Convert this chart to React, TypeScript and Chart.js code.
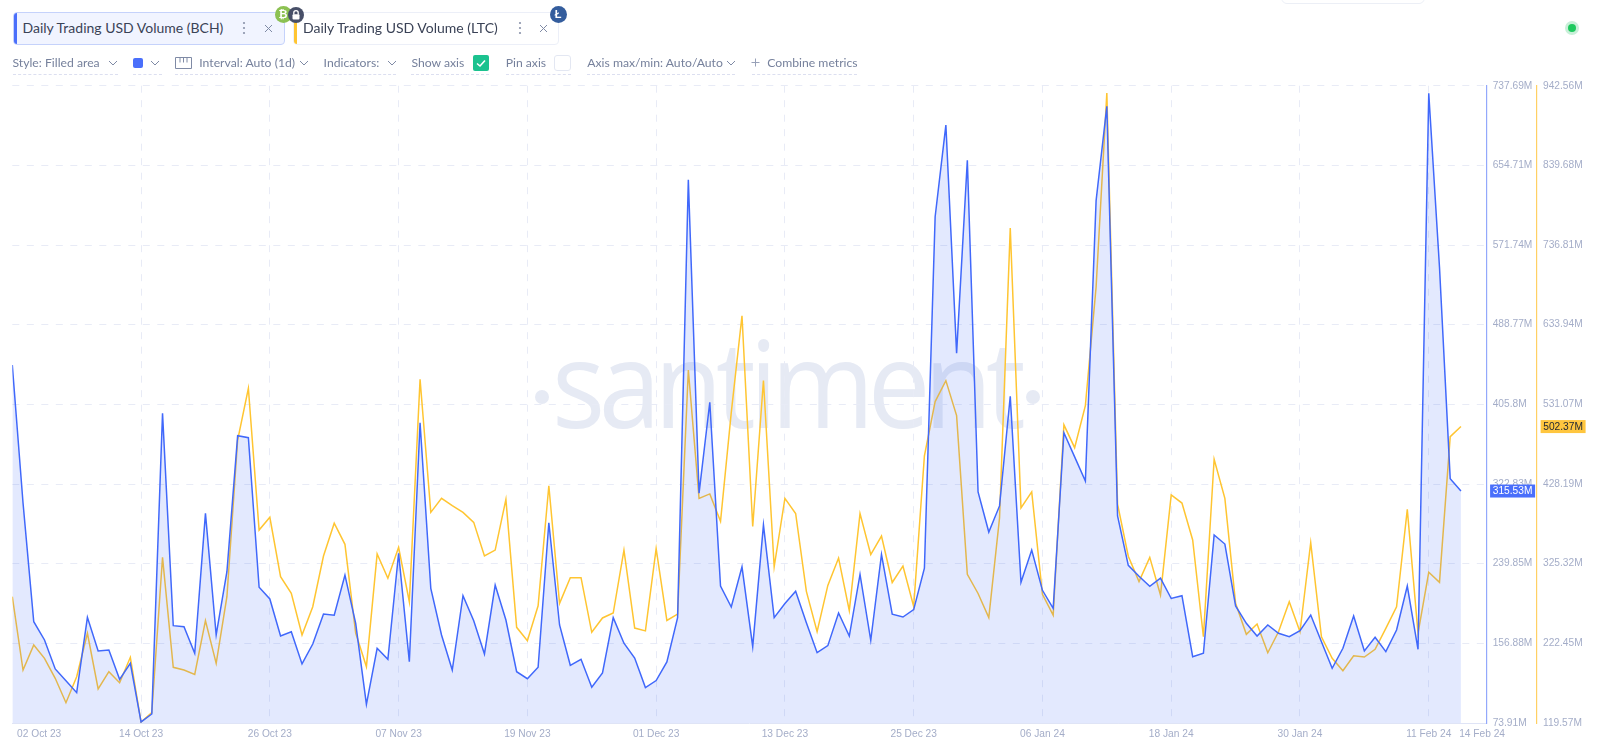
import React, { useEffect, useRef } from "react";
import { Chart, registerables } from "chart.js";

Chart.register(...registerables);

const seriesBCH = [
  446.8, 303.0, 179.4, 160.4, 130.2, 118.0, 105.5, 184.0, 148.9, 149.9, 119.4, 136.1,
  75.0, 83.3, 396.5, 175.3, 174.2, 146.5, 292.3, 165.6, 231.5, 373.2, 371.1, 215.3,
  203.1, 164.5, 169.0, 135.4, 156.2, 187.4, 186.1, 228.0, 177.7, 93.4, 151.7, 140.3,
  250.7, 137.8, 386.7, 214.2, 165.6, 129.1, 206.5, 180.5, 145.8, 217.6, 181.2, 127.3,
  120.0, 132.0, 282.5, 176.0, 134.0, 140.3, 111.1, 126.0, 183.7, 157.0, 141.6, 110.8,
  118.1, 137.5, 183.7, 639.7, 313.3, 408.0, 216.6, 194.7, 236.6, 153.4, 280.3, 183.7,
  198.3, 211.1, 178.3, 147.2, 154.5, 188.5, 164.4, 228.6, 160.1, 249.5, 187.2, 184.3,
  192.0, 235.1, 601.2, 696.7, 459.0, 659.9, 314.6, 272.8, 300.0, 414.2, 220.5, 254.0,
  212.1, 193.3, 376.2, 351.1, 326.0, 618.0, 716.3, 289.5, 238.1, 226.7, 216.3, 224.9,
  203.6, 206.5, 143.0, 146.5, 269.7, 260.3, 195.8, 177.7, 164.5, 176.0, 167.3, 163.8,
  170.0, 186.4, 158.6, 130.9, 151.7, 185.4, 149.0, 163.2, 148.2, 170.8, 216.6, 150.7,
  729.8, 548.9, 328.4, 315.53,
];

const seriesLTC = [
  282.7, 188.0, 220.3, 203.1, 177.3, 145.8, 179.4, 235.4, 163.5, 185.8, 171.6, 204.4,
  120.8, 132.9, 333.5, 191.5, 188.0, 182.4, 251.7, 196.6, 282.7, 485.0, 551.8, 368.8,
  385.2, 308.5, 287.0, 233.2, 269.7, 335.2, 377.5, 350.3, 235.8, 192.3, 337.8, 306.4,
  346.4, 276.2, 563.4, 391.6, 409.7, 400.2, 391.6, 378.7, 335.2, 342.9, 408.4, 243.1,
  225.8, 271.0, 426.0, 274.1, 307.2, 307.2, 236.7, 255.2, 261.6, 342.9, 242.2, 238.5,
  344.8, 252.0, 260.3, 575.5, 409.6, 415.4, 380.1, 520.3, 645.5, 373.3, 561.8, 321.3,
  409.6, 390.1, 289.6, 237.6, 297.2, 332.6, 264.7, 390.1, 337.1, 361.0, 301.0, 322.3,
  270.1, 464.7, 534.7, 561.7, 516.5, 311.6, 286.8, 255.7, 384.3, 758.9, 397.2, 418.0,
  285.7, 258.8, 504.6, 475.1, 529.5, 682.6, 933.2, 402.3, 334.9, 302.3, 333.4, 284.8,
  414.0, 403.6, 355.9, 231.0, 460.1, 409.7, 274.1, 234.1, 247.4, 210.3, 237.4, 276.2,
  237.4, 352.4, 231.0, 203.1, 187.1, 206.4, 204.8, 214.7, 241.8, 269.7, 395.5, 235.4,
  314.2, 301.2, 489.3, 502.37,
];

const dateTickLabels = [
  "02 Oct 23", "14 Oct 23", "26 Oct 23", "07 Nov 23", "19 Nov 23", "01 Dec 23",
  "13 Dec 23", "25 Dec 23", "06 Jan 24", "18 Jan 24", "30 Jan 24", "11 Feb 24", "14 Feb 24",
];
const dateTickDays = [0, 12, 24, 36, 48, 60, 72, 84, 96, 108, 120, 132, 135];

const bchTicks = [73.91, 156.88, 239.85, 322.83, 405.8, 488.77, 571.74, 654.71, 737.69];
const ltcTicks = [119.57, 222.45, 325.32, 428.19, 531.07, 633.94, 736.81, 839.68, 942.56];

const BLUE = "#4068fb";
const YELLOW = "#ffc531";
const TICK = "#a4adc8";
const GRID = "#e8ebf6";
const DASH = [7, 7.5];
const FONT = '"Liberation Sans", Arial, sans-serif';
const UI = 'Lato, "Open Sans", sans-serif';
const MARK = "#e6eaf4";

const endLabels = {
  id: "endLabels",
  afterDraw(chart: any) {
    const { ctx } = chart;
    const items = [
      { axis: "y1", v: seriesBCH[seriesBCH.length - 1], bg: "#4a6ffb", fg: "#ffffff", dx: 3.4 },
      { axis: "y2", v: seriesLTC[seriesLTC.length - 1], bg: "#ffc63f", fg: "#1f2433", dx: 3.6 },
    ];
    ctx.save();
    for (const it of items) {
      const s = chart.scales[it.axis];
      const y = s.getPixelForValue(it.v);
      ctx.fillStyle = it.bg;
      ctx.fillRect(s.left + it.dx, y - 6.5, 45, 13);
      ctx.fillStyle = it.fg;
      ctx.font = `500 10.2px ${FONT}`;
      ctx.textAlign = "center";
      ctx.textBaseline = "middle";
      ctx.fillText(`${it.v.toFixed(2)}M`, s.left + it.dx + 22.5, y + 0.5);
    }
    ctx.restore();
  },
};

const Chevron = ({ x }: { x: number }) => (
  <svg style={{ position: "absolute", left: x - 5, top: 60 }} width="10" height="6" viewBox="0 0 10 6">
    <path d="M1 1 L5 5 L9 1" fill="none" stroke="#7f8aa5" strokeWidth="1" />
  </svg>
);

const Label = ({ x, w, text, color = "#76819c" }: { x: number; w: number; text: string; color?: string }) => (
  <div style={{ position: "absolute", left: x, top: 53.7, width: w, height: 18, lineHeight: "18px", fontSize: 12.2, color, whiteSpace: "nowrap", fontFamily: UI }}>
    {text}
  </div>
);

const Dash = ({ x, w }: { x: number; w: number }) => (
  <div style={{ position: "absolute", left: x, top: 74, width: w, height: 0, borderTop: "1px dashed #dcdff0" }} />
);

const Dots = ({ x }: { x: number }) => (
  <svg style={{ position: "absolute", left: x - 2, top: 21 }} width="4" height="14" viewBox="0 0 4 14">
    <circle cx="2" cy="2" r="1.1" fill="#8a93aa" />
    <circle cx="2" cy="7" r="1.1" fill="#8a93aa" />
    <circle cx="2" cy="12" r="1.1" fill="#8a93aa" />
  </svg>
);

const Cross = ({ x }: { x: number }) => (
  <svg style={{ position: "absolute", left: x - 4.5, top: 23.5 }} width="9" height="9" viewBox="0 0 9 9">
    <path d="M1 1 L8 8 M8 1 L1 8" stroke="#7f8aa5" strokeWidth="1" />
  </svg>
);

const Badge = ({ cx, cy, r, bg, children }: { cx: number; cy: number; r: number; bg: string; children: React.ReactNode }) => (
  <div style={{ position: "absolute", left: cx - r, top: cy - r, width: 2 * r, height: 2 * r, borderRadius: "50%", background: bg, color: "#fff", display: "flex", alignItems: "center", justifyContent: "center", fontFamily: FONT, fontWeight: 700, fontSize: 11, lineHeight: 1 }}>
    {children}
  </div>
);

const Tab = ({ left, width, bg, border, bar, text, textX }: { left: number; width: number; bg: string; border: string; bar: string; text: string; textX: number }) => (
  <>
    <div style={{ position: "absolute", left, top: 12, width, height: 33, boxSizing: "border-box", background: bg, border: `1px solid ${border}`, borderRadius: 4, overflow: "hidden" }}>
      <div style={{ position: "absolute", left: -1, top: -1, bottom: -1, width: 4, background: bar }} />
    </div>
    <div style={{ position: "absolute", left: textX, top: 18, height: 20, lineHeight: "20px", fontSize: 14, color: "#3a4256", whiteSpace: "nowrap", fontFamily: UI }}>
      {text}
    </div>
  </>
);

export default function App() {
  const ref = useRef<HTMLCanvasElement | null>(null);

  useEffect(() => {
    const prev = document.body.style.margin;
    document.body.style.margin = "0";
    const setTicks = (list: number[]) => (scale: any) => {
      scale.ticks = list.map((value) => ({ value }));
    };
    const chart = new Chart(ref.current as HTMLCanvasElement, {
      type: "line",
      data: {
        datasets: [
          {
            label: "Daily Trading USD Volume (BCH)",
            data: seriesBCH.map((y, x) => ({ x, y })),
            yAxisID: "y1",
            borderColor: BLUE,
            borderWidth: 1.5,
            backgroundColor: "rgba(70,105,250,0.15)",
            fill: "start",
            tension: 0,
            pointRadius: 0,
            order: 0,
          },
          {
            label: "Daily Trading USD Volume (LTC)",
            data: seriesLTC.map((y, x) => ({ x, y })),
            yAxisID: "y2",
            borderColor: YELLOW,
            borderWidth: 1.5,
            fill: false,
            tension: 0,
            pointRadius: 0,
            order: 1,
          },
        ],
      },
      plugins: [endLabels],
      options: {
        animation: false,
        responsive: false,
        devicePixelRatio: 1,
        layout: { padding: { left: 12.3, top: 85.7, right: 0, bottom: 0 } },
        plugins: { legend: { display: false }, tooltip: { enabled: false } },
        scales: {
          x: {
            type: "linear",
            min: 0,
            max: 137.4,
            afterBuildTicks: (scale: any) => {
              // the first and last date labels sit beside their day, not centred on it
              scale.ticks = dateTickDays.map((d, i) => ({
                value: i === 0 ? d + 2.5 : i === dateTickDays.length - 1 ? d + 1.97 : d,
              }));
            },
            afterFit: (scale: any) => {
              scale.height = 25;
            },
            border: { display: true, color: "#dfe4f6", width: 1, dash: DASH },
            grid: {
              drawTicks: false,
              color: (c: any) =>
                c.index === 0 || c.index === dateTickDays.length - 1 ? "rgba(0,0,0,0)" : GRID,
              lineWidth: 1,
            },
            ticks: {
              autoSkip: false,
              maxRotation: 0,
              padding: 5,
              color: TICK,
              font: { family: FONT, size: 10.2 },
              callback: (_v: any, i: number) => dateTickLabels[i],
            },
          },
          y1: {
            type: "linear",
            position: "right",
            weight: 0,
            min: bchTicks[0],
            max: bchTicks[bchTicks.length - 1],
            afterBuildTicks: setTicks(bchTicks),
            afterFit: (scale: any) => {
              scale.width = 50.3;
            },
            border: { display: true, color: "#93a8fb", width: 1.2, dash: DASH },
            grid: { drawTicks: false, color: GRID, lineWidth: 1 },
            ticks: {
              autoSkip: false,
              padding: 6,
              color: TICK,
              font: { family: FONT, size: 10.2 },
              callback: (v: any) => `${v}M`,
            },
          },
          y2: {
            type: "linear",
            position: "right",
            weight: 1,
            min: ltcTicks[0],
            max: ltcTicks[ltcTicks.length - 1],
            afterBuildTicks: setTicks(ltcTicks),
            afterFit: (scale: any) => {
              scale.width = 63;
            },
            border: { display: true, color: "#ffd064", width: 1.2 },
            grid: { display: false, drawTicks: false },
            ticks: {
              autoSkip: false,
              padding: 6,
              color: TICK,
              font: { family: FONT, size: 10.2 },
              callback: (v: any) => `${v}M`,
            },
          },
        },
      },
    } as any);
    return () => {
      chart.destroy();
      document.body.style.margin = prev;
    };
  }, []);

  return (
    <div style={{ position: "relative", width: 1600, height: 748, overflow: "hidden", background: "#fff", fontFamily: UI }}>
      {/* watermark */}
      <div style={{ position: "absolute", left: 534.7, top: 389.5, width: 14, height: 14, borderRadius: "50%", background: MARK }} />
      <div style={{ position: "absolute", left: 1026, top: 389.5, width: 14, height: 14, borderRadius: "50%", background: MARK }} />
      <div style={{ position: "absolute", left: 552, top: 301.5, transform: "scaleX(0.93)", transformOrigin: "left center", fontFamily: '"Open Sans", sans-serif', fontWeight: 400, fontSize: 120, letterSpacing: -7, lineHeight: "160px", color: MARK, whiteSpace: "nowrap" }}>
        santiment
      </div>
      <canvas ref={ref} width={1600} height={748} style={{ position: "absolute", left: 0, top: 0, width: 1600, height: 748, display: "block" }} />

      {/* top right */}
      <div style={{ position: "absolute", left: 1281, top: -20, width: 144, height: 23.5, boxSizing: "border-box", border: "1px solid #eceff6", borderRadius: 6 }} />
      <div style={{ position: "absolute", left: 1564.7, top: 21.3, width: 14, height: 14, borderRadius: "50%", background: "#c8efd8" }} />
      <div style={{ position: "absolute", left: 1567.7, top: 24.3, width: 8, height: 8, borderRadius: "50%", background: "#1ec95e" }} />

      {/* metric tabs */}
      <Tab left={12.5} width={272} bg="#f1f4ff" border="#c5d2fb" bar="#4a6ffb" text="Daily Trading USD Volume (BCH)" textX={22.5} />
      <Tab left={293} width={266} bg="#ffffff" border="#eceff8" bar="#ffc531" text="Daily Trading USD Volume (LTC)" textX={303} />
      <Dots x={244.3} />
      <Cross x={268} />
      <Dots x={520} />
      <Cross x={543.6} />
      <Badge cx={283} cy={14} r={8.5} bg="#8cc152">₿</Badge>
      <Badge cx={295.7} cy={14.5} r={8} bg="#474f68">
        <svg width="10" height="12" viewBox="0 0 10 12">
          <path d="M2.8 5.5 V3.8 a2.2 2.2 0 0 1 4.4 0 V5.5" fill="none" stroke="#fff" strokeWidth="1.3" />
          <rect x="1.5" y="5.2" width="7" height="5.3" rx="1" fill="#fff" />
        </svg>
      </Badge>
      <Badge cx={558} cy={14} r={8.5} bg="#345d9d">Ł</Badge>

      {/* settings row */}
      <Label x={12.5} w={90} text="Style: Filled area" />
      <Chevron x={112.5} />
      <div style={{ position: "absolute", left: 133, top: 58, width: 10, height: 10, borderRadius: 2, background: "#4a6ffb" }} />
      <Chevron x={155} />
      <svg style={{ position: "absolute", left: 175, top: 57 }} width="17" height="12" viewBox="0 0 17 12">
        <path d="M0.5 0.5 H16.5 V11.5 H0.5 Z M5 0.5 V5.5 M8.5 0.5 V5.5 M12 0.5 V5.5" fill="none" stroke="#7f8aa5" strokeWidth="1" />
      </svg>
      <Label x={199.3} w={95} text="Interval: Auto (1d)" />
      <Chevron x={303.6} />
      <Label x={323.6} w={60} text="Indicators:" />
      <Chevron x={391.8} />
      <Label x={411.4} w={58} text="Show axis" />
      <div style={{ position: "absolute", left: 473, top: 55, width: 16, height: 16, borderRadius: 2, background: "#1bc28f" }}>
        <svg width="16" height="16" viewBox="0 0 16 16">
          <path d="M4 8.5 L7 11 L12 5.5" fill="none" stroke="#fff" strokeWidth="1.6" />
        </svg>
      </div>
      <Label x={505.7} w={44} text="Pin axis" />
      <div style={{ position: "absolute", left: 554, top: 55, width: 16.5, height: 16, boxSizing: "border-box", borderRadius: 3, border: "1px solid #e3e7f2", background: "#fff" }} />
      <Label x={587.3} w={135} text="Axis max/min: Auto/Auto" />
      <Chevron x={730.7} />
      <svg style={{ position: "absolute", left: 751, top: 58 }} width="9" height="9" viewBox="0 0 9 9">
        <path d="M4.5 0.5 V8.5 M0.5 4.5 H8.5" stroke="#98a1b8" strokeWidth="1" />
      </svg>
      <Label x={767.3} w={95} text="Combine metrics" />

      <Dash x={12.5} w={105} />
      <Dash x={133} w={29} />
      <Dash x={175} w={133} />
      <Dash x={323.6} w={72} />
      <Dash x={411.4} w={78} />
      <Dash x={505.7} w={65} />
      <Dash x={587.3} w={148} />
      <Dash x={752} w={105} />
    </div>
  );
}
